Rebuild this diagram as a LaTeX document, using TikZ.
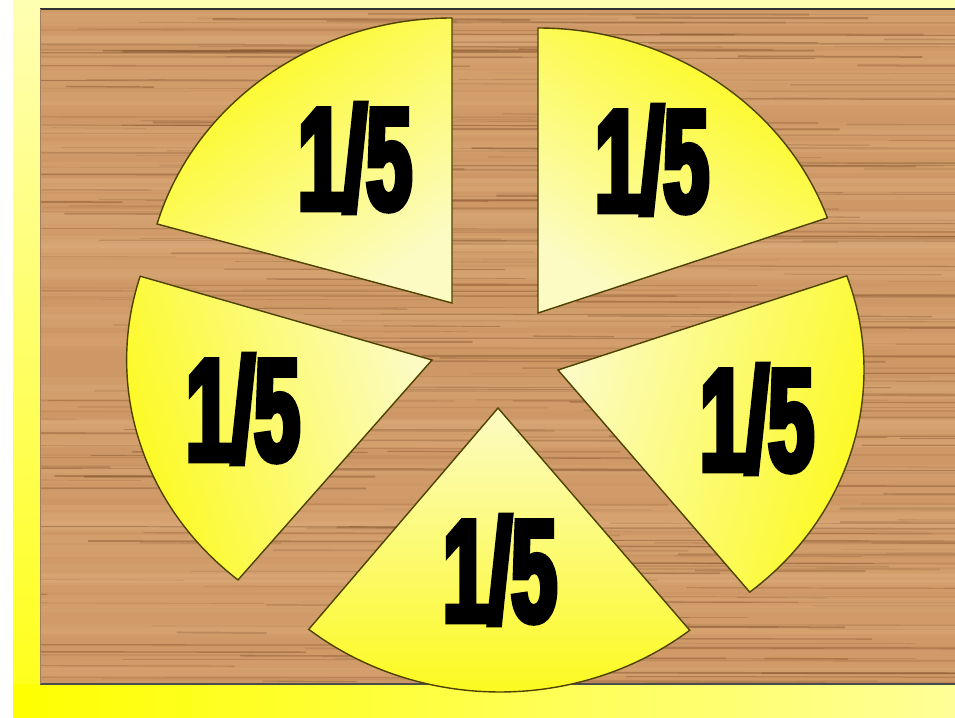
\documentclass[tikz,border=0pt]{standalone}
\usepackage{fontspec}
\newfontfamily\heavyfont[FakeStretch=0.56,FakeBold=4]{Liberation Sans}
\definecolor{woodbase}{RGB}{206,152,102}
\definecolor{wooddark}{RGB}{120,72,36}
\definecolor{woodlight}{RGB}{232,190,140}
\definecolor{sliceout}{RGB}{252,250,20}
\definecolor{slicein}{RGB}{252,251,196}
\definecolor{edgecol}{RGB}{78,66,0}
\definecolor{framebright}{RGB}{255,255,0}
\definecolor{framepale}{RGB}{255,255,222}
\tikzset{
  slicepart/.style={draw=edgecol, line width=1.4pt, line join=miter, top color=sliceout, bottom color=slicein},
  fraclabel/.style={inner sep=0pt, text=black, font=\heavyfont\bfseries\fontsize{146}{146}\selectfont}
}
\begin{document}
\begin{tikzpicture}[x=1pt,y=-1pt]
\useasboundingbox (0,0) rectangle (955,717);
% frame
\fill[white] (0,0) rectangle (955,717);
\begin{scope}
  \clip (13,0) rectangle (955,717);
  \shade[top color=framepale, bottom color=framebright] (13,-200) rectangle (955,820);
  \shade[left color=framebright, right color=framepale] (13,684) rectangle (1400,717);
\end{scope}
% wooden board
\fill[woodbase] (40,9) rectangle (955,684);
\begin{scope}
  \clip (40,9) rectangle (955,684);
  \pgfmathsetseed{12}
  \foreach \i in {1,...,90}{
    \pgfmathsetmacro\yy{9+675*rnd}
    \pgfmathsetmacro\op{0.05+0.12*rnd}
    \pgfmathsetmacro\lw{4+10*rnd}
    \draw[woodlight, opacity=\op, line width=\lw] (0,\yy) -- (955,\yy);
  }
  \foreach \i in {1,...,340}{
    \pgfmathsetmacro\yy{9+675*rnd}
    \pgfmathsetmacro\xa{-150+1050*rnd}
    \pgfmathsetmacro\len{80+520*rnd}
    \pgfmathsetmacro\op{0.10+0.32*rnd}
    \pgfmathsetmacro\lw{0.5+1.6*rnd}
    \draw[wooddark, opacity=\op, line width=\lw] (\xa,\yy) -- ++(\len,0.6);
  }
\end{scope}
\draw[black!80, line width=1.2pt] (40,9) -- (955,9);
\draw[black!70, line width=1.2pt] (40,684) -- (955,684);
\draw[wooddark!70, line width=0.8pt] (40,9) -- (40,684);
% slice tips
\coordinate (tTL) at (452,303);
\coordinate (tTR) at (538,313);
\coordinate (tR) at (558,370);
\coordinate (tB) at (498,408);
\coordinate (tL) at (432,360);
% slices
\shade[slicepart, shading angle=37] (tTL) -- ++(196.1:307 and 285)
  arc[start angle=196.1, end angle=270, x radius=307, y radius=285] -- cycle;
\shade[slicepart, shading angle=-35] (tTR) -- ++(-90:307 and 285)
  arc[start angle=-90, end angle=-19.5, x radius=307, y radius=285] -- cycle;
\shade[slicepart, shading angle=-106] (tR) -- ++(-19.3:306 and 285)
  arc[start angle=-19.3, end angle=51.2, x radius=306, y radius=285] -- cycle;
\shade[slicepart, shading angle=180] (tB) -- ++(51.5:308 and 284)
  arc[start angle=51.5, end angle=128.8, x radius=305, y radius=284] -- cycle;
\shade[slicepart, shading angle=107] (tL) -- ++(129.5:305 and 285)
  arc[start angle=129.5, end angle=197.1, x radius=306, y radius=285] -- cycle;
% labels
\node[fraclabel] (lTL) at (355,158) {1/5};
\node[fraclabel] (lTR) at (652,160) {1/5};
\node[fraclabel] (lL) at (243,409) {1/5};
\node[fraclabel] (lR) at (757,419) {1/5};
\node[fraclabel] (lB) at (500,570) {1/5};
\end{tikzpicture}
\end{document}
